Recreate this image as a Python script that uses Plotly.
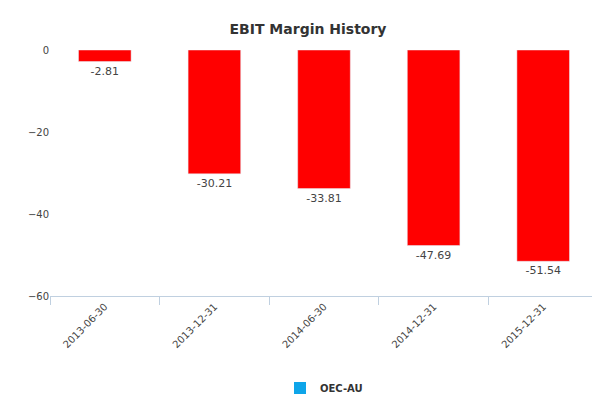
import plotly.graph_objects as go

dates = ['2013-06-30', '2013-12-31', '2014-06-30', '2014-12-31', '2015-12-31']
margins = [-2.81, -30.21, -33.81, -47.69, -51.54]

fig = go.Figure()
fig.add_trace(go.Bar(
    x=dates, y=margins,
    marker_color='#ff0000',
    text=[f'{v:.2f}' for v in margins],
    textposition='outside',
    textfont=dict(size=11, color='#444444'),
    cliponaxis=False,
    showlegend=False,
))
# legend entry (blue swatch, as in the original)
fig.add_trace(go.Scatter(
    x=[None], y=[None], mode='markers', name='<b>OEC-AU</b>',
    marker=dict(symbol='square', size=12, color='#0ea5e9'),
))

fig.update_layout(
    width=600, height=400,
    title=dict(text='<b>EBIT Margin History</b>', x=0.5, xanchor='center', y=0.96,
               font=dict(size=14, color='#333333')),
    font=dict(family='DejaVu Sans', size=10, color='#444444'),
    plot_bgcolor='white', paper_bgcolor='white',
    bargap=0.52,
    margin=dict(l=42, r=10, t=42, b=112, autoexpand=False),
    showlegend=True,
    legend=dict(orientation='h', x=0.5, xanchor='center', y=0.05, yanchor='middle',
                yref='container', font=dict(size=10, color='#333333')),
)
fig.update_xaxes(type='category', tickangle=-45, showline=True, linecolor='#c0d0e0',
                 ticks='outside', tickcolor='#c0d0e0', ticklen=8, tickson='boundaries',
                 showgrid=False, automargin=False)
fig.update_yaxes(range=[-60, 0], tickvals=[0, -20, -40, -60], showgrid=False,
                 zeroline=False, automargin=False)

fig.add_annotation(text='www.capitalcube.com', xref='paper', yref='paper',
                   x=1, y=-0.5, xanchor='right', yanchor='top', showarrow=False,
                   font=dict(size=9, color='#777777'))

fig.write_html('out.html')
